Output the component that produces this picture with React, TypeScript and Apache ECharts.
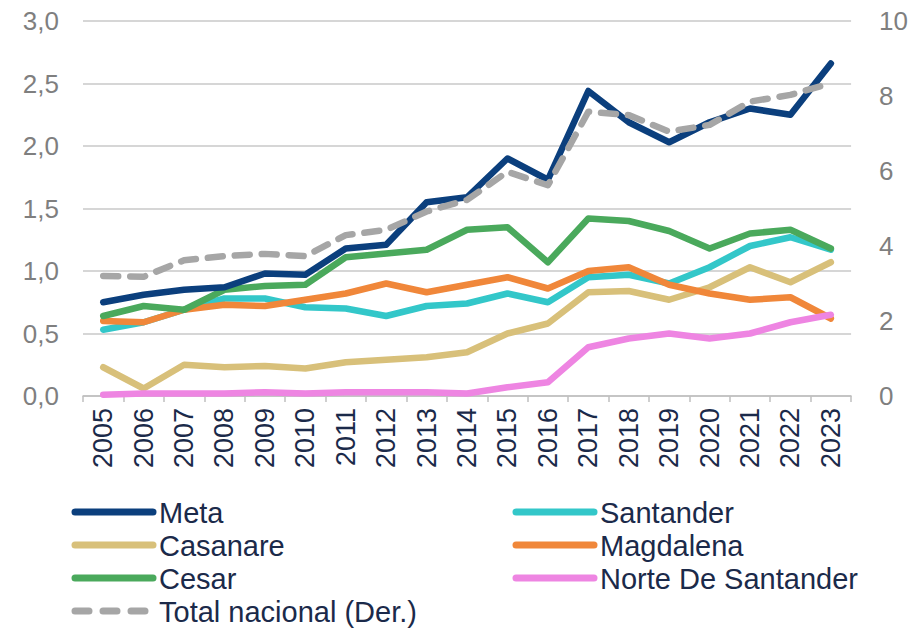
import React, { useEffect, useRef } from "react";
import * as echarts from "echarts";

const years = ["2005","2006","2007","2008","2009","2010","2011","2012","2013","2014","2015","2016","2017","2018","2019","2020","2021","2022","2023"];
const meta = [0.75,0.81,0.85,0.87,0.98,0.97,1.18,1.21,1.55,1.59,1.90,1.73,2.44,2.19,2.03,2.19,2.30,2.25,2.66];
const santander = [0.53,0.59,0.69,0.78,0.78,0.71,0.70,0.64,0.72,0.74,0.82,0.75,0.95,0.97,0.90,1.03,1.20,1.27,1.17];
const casanare = [0.23,0.06,0.25,0.23,0.24,0.22,0.27,0.29,0.31,0.35,0.50,0.58,0.83,0.84,0.77,0.87,1.03,0.91,1.07];
const magdalena = [0.60,0.59,0.69,0.73,0.72,0.77,0.82,0.90,0.83,0.89,0.95,0.86,1.00,1.03,0.89,0.82,0.77,0.79,0.62];
const cesar = [0.64,0.72,0.69,0.85,0.88,0.89,1.11,1.14,1.17,1.33,1.35,1.07,1.42,1.40,1.32,1.18,1.30,1.33,1.18];
const norte = [0.01,0.02,0.02,0.02,0.03,0.02,0.03,0.03,0.03,0.02,0.07,0.11,0.39,0.46,0.50,0.46,0.50,0.59,0.65];
const totalNacional = [3.20,3.18,3.62,3.73,3.79,3.73,4.29,4.43,4.92,5.23,5.98,5.62,7.58,7.49,7.05,7.23,7.85,8.03,8.34];

const leftTicks = ["0,0","0,5","1,0","1,5","2,0","2,5","3,0"];

const FONT = "'Liberation Sans', Arial, sans-serif";

const C = {
  meta: "#0b3f7d",
  santander: "#33c7c9",
  casanare: "#d8c07a",
  magdalena: "#f0873a",
  cesar: "#4aa95c",
  norte: "#ee85e2",
  total: "#a6a6a6",
};

const legendCols = [
  { x: 75, items: [["Meta", C.meta, false], ["Casanare", C.casanare, false], ["Cesar", C.cesar, false], ["Total nacional (Der.)", C.total, true]] },
  { x: 516, items: [["Santander", C.santander, false], ["Magdalena", C.magdalena, false], ["Norte De Santander", C.norte, false]] },
];

export default function App() {
  const ref = useRef<HTMLDivElement>(null);
  useEffect(() => {
    if (!ref.current) return;
    const chart = echarts.init(ref.current, undefined, { renderer: "svg" });
    const mk = (name: string, data: number[], color: string, extra: any = {}) => ({
      name,
      type: "line",
      data,
      symbol: "none",
      lineStyle: { color, width: 6.5, cap: "round", join: "round", ...(extra.lineStyle || {}) },
      itemStyle: { color },
      yAxisIndex: extra.yAxisIndex || 0,
      z: extra.z || 2,
    });
    const graphics: any[] = [];
    const rowY = [512, 545, 578, 611];
    legendCols.forEach((col) => {
      col.items.forEach((it: any, i: number) => {
        const [label, color, dashed] = it;
        graphics.push({
          type: "line",
          shape: { x1: col.x, y1: rowY[i], x2: col.x + 78, y2: rowY[i] },
          style: {
            stroke: color,
            lineWidth: 7,
            lineCap: "round",
            lineDash: dashed ? [14, 14] : null,
          },
        });
        graphics.push({
          type: "text",
          x: col.x + 84,
          y: rowY[i] + 1,
          style: {
            text: label,
            fill: "#1b2a4a",
            fontSize: 29,
            fontFamily: FONT,
            verticalAlign: "middle",
            align: "left",
          },
        });
      });
    });
    chart.setOption({
      animation: false,
      backgroundColor: "#ffffff",
      textStyle: { fontFamily: FONT },
      grid: { left: 83, right: 59, top: 21, bottom: 233, containLabel: false },
      xAxis: {
        type: "category",
        data: years,
        boundaryGap: true,
        axisLine: { lineStyle: { color: "#bfbfbf", width: 1.5 } },
        axisTick: { show: true, length: 6, lineStyle: { color: "#bfbfbf", width: 1.5 } },
        axisLabel: { rotate: 90, color: "#1b2a4a", fontSize: 27, margin: 12, fontFamily: FONT },
      },
      yAxis: [
        {
          type: "value",
          min: 0,
          max: 3,
          interval: 0.5,
          axisLine: { show: false },
          axisTick: { show: false },
          splitLine: { lineStyle: { color: "#c8c8c8", width: 1.5 } },
          axisLabel: {
            color: "#7f7f7f",
            fontSize: 26,
            margin: 24,
            fontFamily: FONT,
            formatter: (v: number) => leftTicks[Math.round(v / 0.5)],
          },
        },
        {
          type: "value",
          min: 0,
          max: 10,
          interval: 2,
          position: "right",
          axisLine: { show: false },
          axisTick: { show: false },
          splitLine: { show: false },
          axisLabel: { color: "#7f7f7f", fontSize: 26, margin: 28, fontFamily: FONT },
        },
      ],
      graphic: graphics,
      series: [
        mk("Meta", meta, C.meta, { z: 3 }),
        mk("Santander", santander, C.santander),
        mk("Casanare", casanare, C.casanare),
        mk("Magdalena", magdalena, C.magdalena),
        mk("Cesar", cesar, C.cesar),
        mk("Norte De Santander", norte, C.norte),
        mk("Total nacional (Der.)", totalNacional, C.total, {
          yAxisIndex: 1,
          z: 4,
          lineStyle: { type: [15, 12], cap: "round" },
        }),
      ],
    });
    return () => chart.dispose();
  }, []);
  return <div ref={ref} style={{ width: 911, height: 629, position: "absolute", left: 0, top: 0 }} />;
}
